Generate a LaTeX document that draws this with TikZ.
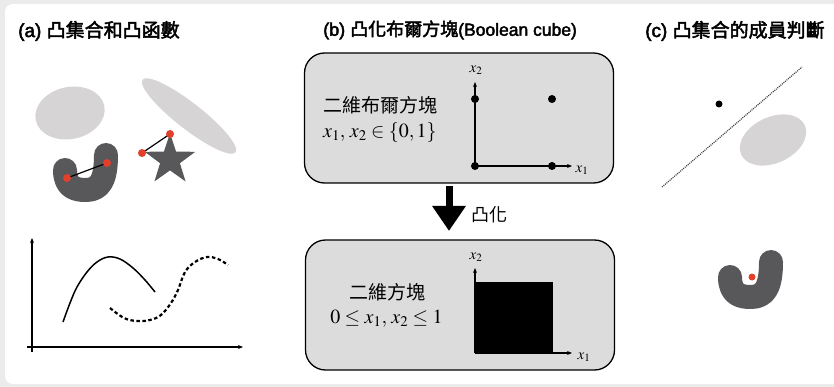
\documentclass[tikz,border=0pt]{standalone}
\usepackage{mathptmx}
\usepackage[no-math]{fontspec}
\newfontfamily\cjk{Noto Sans CJK TC}
\newfontfamily\cjkt{Noto Sans CJK TC}[FakeBold=2.5]
\newfontfamily\latt{Liberation Sans}[FakeBold=2.5]
\usetikzlibrary{shapes.geometric,arrows.meta}
\definecolor{bggray}{HTML}{EBEBEB}
\definecolor{lgray}{HTML}{D6D4D4}
\definecolor{dgray}{HTML}{58585A}
\definecolor{boxgray}{HTML}{DCDCDC}
\definecolor{redpt}{HTML}{E2402A}
\tikzset{
  titletext/.style={anchor=west, inner sep=0pt},
  reddot/.style={circle, fill=redpt, inner sep=0pt, minimum size=8pt},
  bdot/.style={circle, fill=black, inner sep=0pt, minimum size=8pt},
  seg/.style={line width=1.2pt, black},
  axisline/.style={line width=1.1pt, -{Stealth[length=5pt,width=4pt]}},
  bigbox/.style={draw=black, fill=boxgray, line width=1.3pt, rounded corners=20pt, minimum width=309pt, minimum height=130pt, inner sep=0pt},
  kidney/.style={draw=dgray, line width=24pt, line cap=round, line join=round},
  cjktext/.style={font=\cjk\fontsize{19}{19}\selectfont, inner sep=0pt},
  mathtext/.style={font=\fontsize{20}{20}\selectfont, inner sep=0pt},
  axlabel/.style={font=\fontsize{15}{15}\selectfont, inner sep=0pt}
}
\begin{document}
\begin{tikzpicture}[x=1pt,y=-1pt]
\useasboundingbox (0,0) rectangle (834,387);
\fill[bggray] (0,0) rectangle (834,387);
\fill[white, rounded corners=8pt] (5,4) rectangle (860,384);

% titles
\node[titletext] (ta) at (18,31) {{\latt\fontsize{19}{19}\selectfont (a) }{\cjkt\fontsize{19}{19}\selectfont 凸集合和凸函數}};
\node[titletext] (tb) at (323,30) {{\latt\fontsize{18}{18}\selectfont (b) }{\cjkt\fontsize{18}{18}\selectfont 凸化布爾方塊}{\latt\fontsize{17.5}{18}\selectfont (Boolean cube)}};
\node[titletext] (tc) at (645,31) {{\latt\fontsize{19}{19}\selectfont (c) }{\cjkt\fontsize{19}{19}\selectfont 凸集合的成員判斷}};

% ---------- panel (a) ----------
\fill[lgray, rotate around={12:(70,113)}] (70,113) ellipse [x radius=35, y radius=26];
\fill[lgray, rotate around={-38:(189,116)}] (189,116) ellipse [x radius=59, y radius=13];
\node[star, star points=5, star point ratio=2.55, fill=dgray, minimum size=53pt, inner sep=0pt] (star) at (170,160) {};
\draw[kidney] (65,170) .. controls (65,188) and (76,190) .. (86,190) .. controls (100,190) and (106,180) .. (106,155);
\coordinate (ka) at (67,178);
\coordinate (kb) at (107,163);
\coordinate (sa) at (170,134);
\coordinate (sb) at (142,153);
\draw[seg] (ka) -- (kb);
\draw[seg] (sa) -- (sb);
\node[reddot] (kad) at (ka) {};
\node[reddot] (kbd) at (kb) {};
\node[reddot] (sad) at (sa) {};
\node[reddot] (sbd) at (sb) {};

% function graph
\coordinate (fy0) at (32,352);
\coordinate (fy1) at (32,238);
\coordinate (fx0) at (27,347);
\coordinate (fx1) at (243,347);
\draw[axisline] (fy0) -- (fy1);
\draw[axisline] (fx0) -- (fx1);
\draw[line width=1.5pt] plot[smooth, tension=0.6] coordinates {(63,322) (70,303) (77,287) (87,272) (97,262) (108,257) (120,259) (133,268) (145,280) (155,292)};
\draw[line width=2.2pt, dash pattern=on 3.5pt off 2.5pt] plot[smooth, tension=0.6] coordinates {(110,308) (124,318) (137,321) (150,320) (161,315) (171,303) (178,290) (185,272) (195,262) (207,257) (218,259) (228,265)};

% ---------- panel (b) ----------
\node[bigbox] (b1) at (459,118) {};
\node[bigbox] (b2) at (460,305) {};

\node[cjktext, anchor=west] (b1t) at (323,105) {二維布爾方塊};
\node[mathtext, anchor=west] (b1m) at (323,133) {$x_1,\, x_2 \in \{0,1\}$};

\node[bdot] (p00) at (475,166) {};
\node[bdot] (p10) at (552,166) {};
\node[bdot] (p01) at (475,99) {};
\node[bdot] (p11) at (552,99) {};
\coordinate (b1xe) at (572,166);
\coordinate (b1ye) at (475,82);
\draw[axisline] (p00.center) -- (b1xe);
\draw[axisline] (p00.center) -- (b1ye);
\node[axlabel] (b1xl) at (582,170) {$x_1$};
\node[axlabel] (b1yl) at (476,70) {$x_2$};

% convexify arrow
\coordinate (arS) at (449,186);
\coordinate (arE) at (449,231);
\draw[line width=7pt, -{Triangle[length=25pt,width=32pt]}] (arS) -- (arE);
\node[font=\cjk\fontsize{18}{18}\selectfont, anchor=west, inner sep=0pt] (arl) at (471,215) {凸化};

\node[cjktext] (b2t) at (387.5,292) {二維方塊};
\node[mathtext] (b2m) at (386.5,319) {$0 \leq x_1,\, x_2 \leq 1$};
\coordinate (q00) at (475,353);
\fill[black] (q00) rectangle (553,282);
\coordinate (b2xe) at (572,353);
\coordinate (b2ye) at (475,268);
\draw[axisline] (q00) -- (b2xe);
\draw[axisline] (q00) -- (b2ye);
\node[axlabel] (b2xl) at (584,357) {$x_1$};
\node[axlabel] (b2yl) at (476,257) {$x_2$};

% ---------- panel (c) ----------
\coordinate (h0) at (662,187);
\coordinate (h1) at (802,67);
\draw[line width=1.2pt, black!75, dash pattern=on 1pt off 1pt] (h0) -- (h1);
\node[circle, fill=black, inner sep=0pt, minimum size=7pt] (cq) at (719,104) {};
\fill[lgray, rotate around={25:(773,140)}] (773,140) ellipse [x radius=35, y radius=23];
\begin{scope}[shift={(665,107)}]
\draw[kidney] (65,170) .. controls (65,188) and (76,190) .. (86,190) .. controls (100,190) and (106,180) .. (106,155);
\end{scope}
\node[reddot, minimum size=7pt] (cr) at (752,277) {};
\end{tikzpicture}
\end{document}
